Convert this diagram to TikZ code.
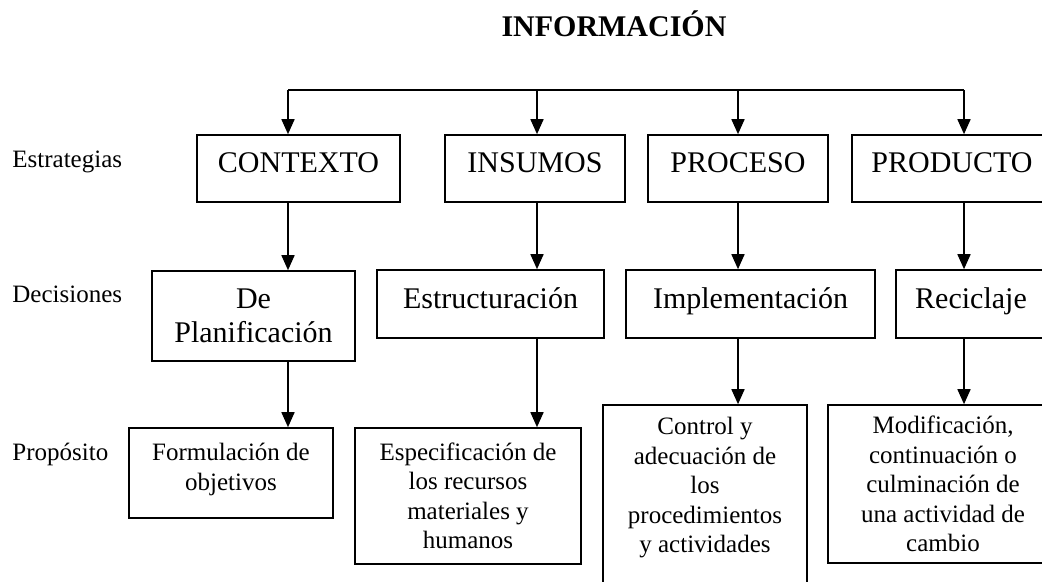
\documentclass[tikz,border=0pt]{standalone}
\usepackage{fontspec}
\setmainfont{Liberation Serif}
\usetikzlibrary{arrows.meta}

\begin{document}
\begin{tikzpicture}[x=0.5pt, y=-0.5pt,
	caja/.style={draw, line width=0.8pt, align=center, inner sep=0pt},
	grande/.style={caja, font=\fontsize{15}{17}\selectfont},
	linea/.style={grande, text height=10pt, text depth=6pt},
	chica/.style={caja, font=\fontsize{12.5}{14.75}\selectfont},
	etiqueta/.style={font=\fontsize{12.5}{14.5}\selectfont, anchor=base west, inner sep=0pt},
	flecha/.style={-{Triangle[width=6.5pt,length=7.5pt]}, line width=0.8pt}]
	\clip (0,0) rectangle (1042,582);

	\node[font=\fontsize{15}{17}\selectfont\bfseries, anchor=base, inner sep=0pt] (titulo) at (614,37) {INFORMACIÓN};

	\node[etiqueta] (estrategias) at (12,168) {Estrategias};
	\node[etiqueta] (decisiones) at (12,302) {Decisiones};
	\node[etiqueta] (proposito) at (12,460) {Propósito};

	% estrategias
	\node[linea, minimum width=101.5pt, minimum height=33.5pt] (contexto) at (298.5,168.5) {CONTEXTO};
	\node[linea, minimum width=90pt, minimum height=33.5pt] (insumos) at (535,168.5) {INSUMOS};
	\node[linea, minimum width=90pt, minimum height=33.5pt] (proceso) at (738,168.5) {PROCESO};
	\node[linea, minimum width=100pt, minimum height=33.5pt] (producto) at (952,168.5) {PRODUCTO};

	% decisiones
	\node[grande, minimum width=101.5pt, minimum height=45pt] (plan) at (253.5,316) {De\\Planificación};
	\node[linea, minimum width=113.5pt, minimum height=34pt] (estruc) at (490.5,304) {Estructuración};
	\node[linea, minimum width=124.5pt, minimum height=34pt] (implem) at (750.5,304) {Implementación};
	\node[linea, minimum width=75pt, minimum height=34pt] (recicl) at (971,304) {Reciclaje};

	% proposito
	\node[chica, minimum width=102pt, minimum height=45pt, text depth=6.3pt] (formul) at (231,473) {Formulación de\\objetivos};
	\node[chica, minimum width=113pt, minimum height=68pt] (especif) at (468,496) {Especificación de\\los recursos\\materiales y\\humanos};
	\node[chica, minimum width=102pt, minimum height=95pt, text depth=15pt] (control) at (705,500) {Control y\\adecuación de\\los\\procedimientos\\y actividades};
	\node[chica, minimum width=115pt, minimum height=79pt] (modif) at (943,484) {Modificación,\\continuación o\\culminación de\\una actividad de\\cambio};

	\coordinate (b1) at (288,90);
	\coordinate (b2) at (537,90);
	\coordinate (b3) at (738,90);
	\coordinate (b4) at (964,90);

	\draw[line width=0.8pt] (b1) -- (b4);
	\path[flecha]
		(b1) edge (b1 |- contexto.north)
		(b2) edge (b2 |- insumos.north)
		(b3) edge (b3 |- proceso.north)
		(b4) edge (b4 |- producto.north)
		(b1 |- contexto.south) edge (b1 |- plan.north)
		(b2 |- insumos.south) edge (b2 |- estruc.north)
		(b3 |- proceso.south) edge (b3 |- implem.north)
		(b4 |- producto.south) edge (b4 |- recicl.north)
		(b1 |- plan.south) edge (b1 |- formul.north)
		(b2 |- estruc.south) edge (b2 |- especif.north)
		(b3 |- implem.south) edge (b3 |- control.north)
		(b4 |- recicl.south) edge (b4 |- modif.north)
	;
\end{tikzpicture}
\end{document}
